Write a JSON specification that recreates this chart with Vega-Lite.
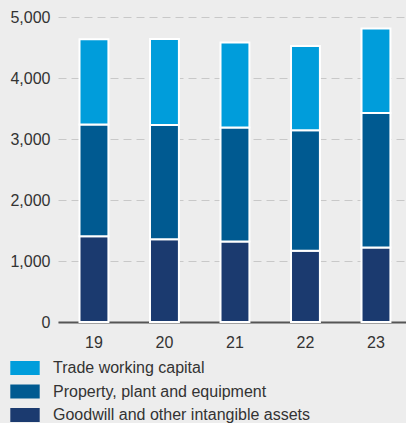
{
  "$schema": "https://vega.github.io/schema/vega-lite/v6.json",
  "autosize": "none",
  "width": 348,
  "height": 305,
  "padding": {"left": 58, "top": 17, "right": 0, "bottom": 101},
  "background": "#ededed",
  "config": {
    "view": {"stroke": null},
    "font": "Liberation Sans",
    "text": {"font": "Liberation Sans"}
  },
  "data": {
    "values": [
      {"year": "19", "category": "Goodwill and other intangible assets", "value": 1405},
      {"year": "20", "category": "Goodwill and other intangible assets", "value": 1356},
      {"year": "21", "category": "Goodwill and other intangible assets", "value": 1318},
      {"year": "22", "category": "Goodwill and other intangible assets", "value": 1170},
      {"year": "23", "category": "Goodwill and other intangible assets", "value": 1220},
      {"year": "19", "category": "Property, plant and equipment", "value": 1831},
      {"year": "20", "category": "Property, plant and equipment", "value": 1874},
      {"year": "21", "category": "Property, plant and equipment", "value": 1869},
      {"year": "22", "category": "Property, plant and equipment", "value": 1973},
      {"year": "23", "category": "Property, plant and equipment", "value": 2206},
      {"year": "19", "category": "Trade working capital", "value": 1400},
      {"year": "20", "category": "Trade working capital", "value": 1410},
      {"year": "21", "category": "Trade working capital", "value": 1393},
      {"year": "22", "category": "Trade working capital", "value": 1382},
      {"year": "23", "category": "Trade working capital", "value": 1384}
    ]
  },
  "mark": {"type": "bar", "stroke": "white", "strokeWidth": 2},
  "encoding": {
    "x": {
      "field": "year",
      "type": "ordinal",
      "title": null,
      "scale": {"paddingInner": 0.59, "paddingOuter": 0.263, "align": 0.58},
      "axis": {
        "labelAngle": 0,
        "ticks": false,
        "domainColor": "#555555",
        "domainWidth": 2,
        "labelFontSize": 16,
        "labelColor": "#333333",
        "labelPadding": 12,
        "grid": false
      }
    },
    "y": {
      "field": "value",
      "type": "quantitative",
      "title": null,
      "stack": "zero",
      "scale": {"domain": [0, 5000]},
      "axis": {
        "values": [0, 1000, 2000, 3000, 4000, 5000],
        "format": ",.0f",
        "domain": false,
        "ticks": false,
        "labelFontSize": 16,
        "labelColor": "#333333",
        "labelPadding": 8,
        "gridColor": "#c8c8c8",
        "gridDash": [8, 5],
        "gridWidth": 1
      }
    },
    "color": {
      "field": "category",
      "type": "nominal",
      "scale": {
        "domain": ["Trade working capital", "Property, plant and equipment", "Goodwill and other intangible assets"],
        "range": ["#009ddb", "#005a91", "#1b3a6f"]
      },
      "legend": {
        "title": null,
        "orient": "none",
        "legendX": -41,
        "legendY": 343,
        "padding": 0,
        "symbolType": "M-2.1,-1H2.1V1H-2.1Z",
        "symbolSize": 196,
        "symbolStrokeWidth": 0,
        "labelFontSize": 16,
        "labelColor": "#333333",
        "labelOffset": 20,
        "rowPadding": 7.5,
        "labelLimit": 400
      }
    },
    "order": {"field": "category", "sort": "ascending"}
  }
}
